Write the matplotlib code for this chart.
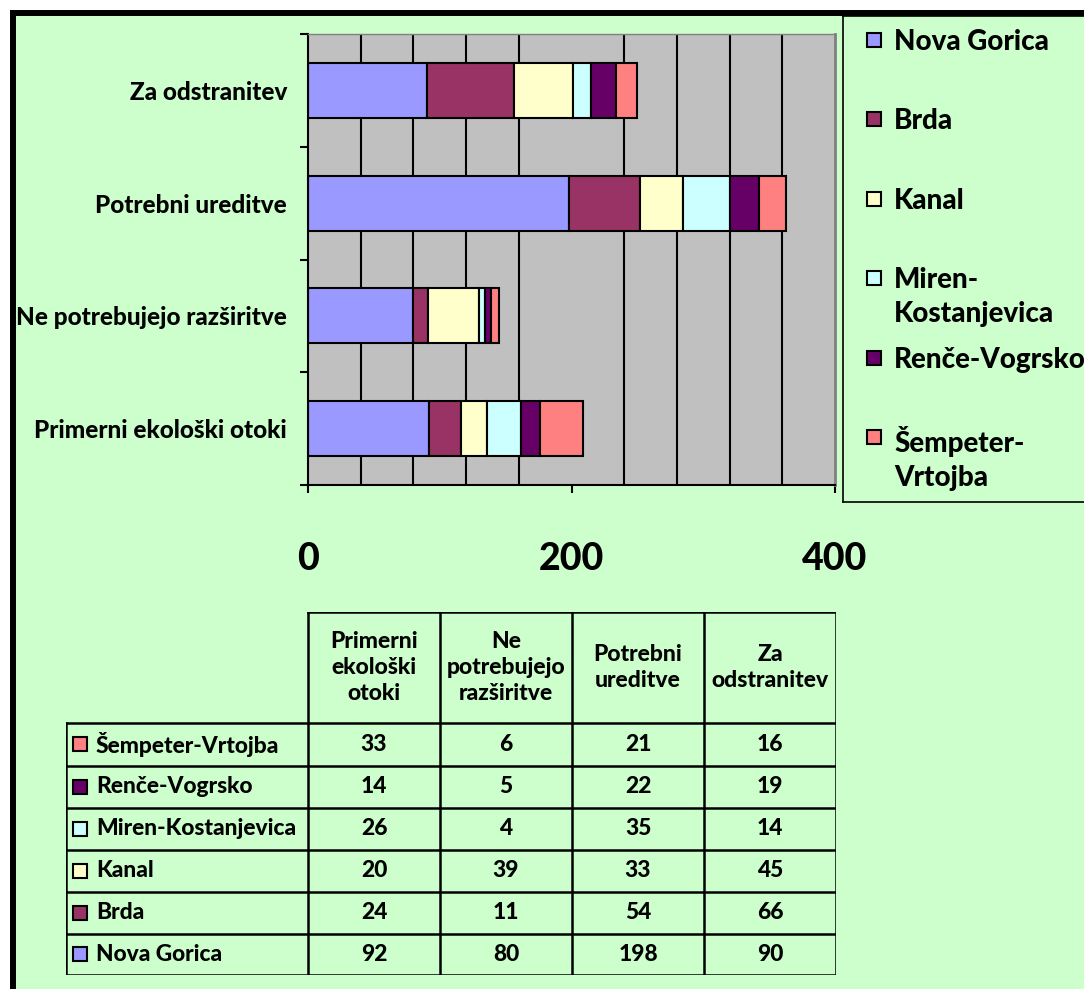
import matplotlib.pyplot as plt
from matplotlib.patches import Rectangle
import numpy as np

plt.rcParams['font.family'] = ['Lato', 'DejaVu Sans']
plt.rcParams['font.weight'] = 'black'
FW = 'black'

# kategorije (od spodaj navzgor)
categories = ["Primerni ekološki otoki", "Ne potrebujejo razširitve",
              "Potrebni ureditve", "Za odstranitev"]
headers = ["Primerni\nekološki\notoki", "Ne\npotrebujejo\nrazširitve",
           "Potrebni\nureditve", "Za\nodstranitev"]

# občine
areas = ["Nova Gorica", "Brda", "Kanal", "Miren-Kostanjevica",
         "Renče-Vogrsko", "Šempeter-Vrtojba"]
legend_labels = ["Nova Gorica", "Brda", "Kanal", "Miren-\nKostanjevica",
                 "Renče-Vogrsko", "Šempeter-\nVrtojba"]
colors = ["#9999FF", "#993366", "#FFFFCC", "#CCFFFF", "#660066", "#FF8080"]

nova_gorica = [92, 80, 198, 90]
brda = [24, 11, 54, 66]
kanal = [20, 39, 33, 45]
miren = [26, 4, 35, 14]
rence = [14, 5, 22, 19]
sempeter = [33, 6, 21, 16]
values = [nova_gorica, brda, kanal, miren, rence, sempeter]

W, H = 1084, 989
fig = plt.figure(figsize=(W / 100, H / 100), dpi=100, facecolor='white')

# zunanji okvir grafikona
fig.patches.append(Rectangle((13 / W, -0.1), 1.2, 1 - 13 / H + 0.1,
                             transform=fig.transFigure, fc='#CCFFCC',
                             ec='black', lw=4.3, zorder=-10))


def box(x0, y0, x1, y1):
    return [x0 / W, 1 - y1 / H, (x1 - x0) / W, (y1 - y0) / H]


# --- graf ---
ax = fig.add_axes(box(308, 34, 835, 485))
ax.set_facecolor('#C0C0C0')
ax.set_axisbelow(True)

y = np.arange(len(categories))
left = np.zeros(len(categories))
for vals, c, name in zip(values, colors, areas):
    ax.barh(y, vals, left=left, height=0.49, color=c, edgecolor='black',
            linewidth=1.5, label=name)
    left += np.array(vals)

ax.set_xlim(0, 400)
ax.set_ylim(-0.5, len(categories) - 0.5)

ax.set_xticks([0, 200, 400])
ax.set_xticklabels(['0', '200', '400'], fontsize=27, fontweight=FW)
ax.set_xticks(np.arange(0, 401, 40), minor=True)
ax.tick_params(axis='x', which='major', direction='out', length=6, width=1.5, pad=35)
ax.tick_params(axis='x', which='minor', length=0)
ax.grid(axis='x', which='minor', color='black', linewidth=1.5)

ax.set_yticks(np.arange(-0.5, len(categories), 1.0))
ax.set_yticklabels([])
ax.set_yticks(y, minor=True)
ax.set_yticklabels(categories, minor=True, fontsize=17.5, fontweight=FW)
ax.tick_params(axis='y', which='major', direction='out', length=6, width=1.5)
ax.tick_params(axis='y', which='minor', length=0, pad=15)

for s in ['left', 'bottom']:
    ax.spines[s].set_linewidth(1.5)
ax.spines['top'].set_color('#808080')
ax.spines['top'].set_linewidth(1)
ax.spines['right'].set_color('#808080')
ax.spines['right'].set_linewidth(2)

# --- legenda ---
lax = fig.add_axes(box(843, 16, 1100, 502))
lax.set_xlim(843, 1100)
lax.set_ylim(502, 16)
lax.set_facecolor('none')
lax.set_xticks([])
lax.set_yticks([])
for s in lax.spines.values():
    s.set_linewidth(1.2)
for i, (lab, c) in enumerate(zip(legend_labels, colors)):
    yc = 40 + i * 79.4
    lax.add_patch(Rectangle((867, yc - 7), 14, 14, fc=c, ec='black', lw=1.5))
    lax.text(894, yc - 11, lab, fontsize=20, fontweight=FW,
             va='top', ha='left', linespacing=1.38)

# --- podatkovna tabela ---
tax = fig.add_axes(box(66, 612, 836, 975))
tax.set_xlim(66, 836)
tax.set_ylim(975, 612)
tax.axis('off')

col_x = [66, 308, 440, 572, 704, 836]
row_y = [612, 723, 766, 808, 850, 892, 934, 975]
lw = 1.8
tax.plot([col_x[1], col_x[-1]], [row_y[0]] * 2, color='black', lw=lw)
for yy in row_y[1:]:
    tax.plot([col_x[0], col_x[-1]], [yy, yy], color='black', lw=lw)
tax.plot([col_x[0]] * 2, [row_y[1], row_y[-1]], color='black', lw=lw)
for xx in col_x[1:]:
    tax.plot([xx, xx], [row_y[0], row_y[-1]], color='black', lw=lw)

for j, h in enumerate(headers):
    tax.text((col_x[j + 1] + col_x[j + 2]) / 2, (row_y[0] + row_y[1]) / 2, h,
             ha='center', va='center', fontsize=16.5, fontweight=FW,
             linespacing=1.3)

# vrstice v obratnem vrstnem redu (Šempeter-Vrtojba zgoraj)
for r, k in enumerate(reversed(range(len(areas)))):
    yc = (row_y[r + 1] + row_y[r + 2]) / 2
    tax.add_patch(Rectangle((73, yc - 7), 14, 14, fc=colors[k], ec='black', lw=1.5))
    tax.text(96, yc, areas[k], ha='left', va='center', fontsize=16.4,
             fontweight=FW)
    for j, v in enumerate(values[k]):
        tax.text((col_x[j + 1] + col_x[j + 2]) / 2, yc, str(v), ha='center',
                 va='center', fontsize=16.4, fontweight=FW)

fig.savefig('out.png', dpi=100, facecolor=fig.get_facecolor())
